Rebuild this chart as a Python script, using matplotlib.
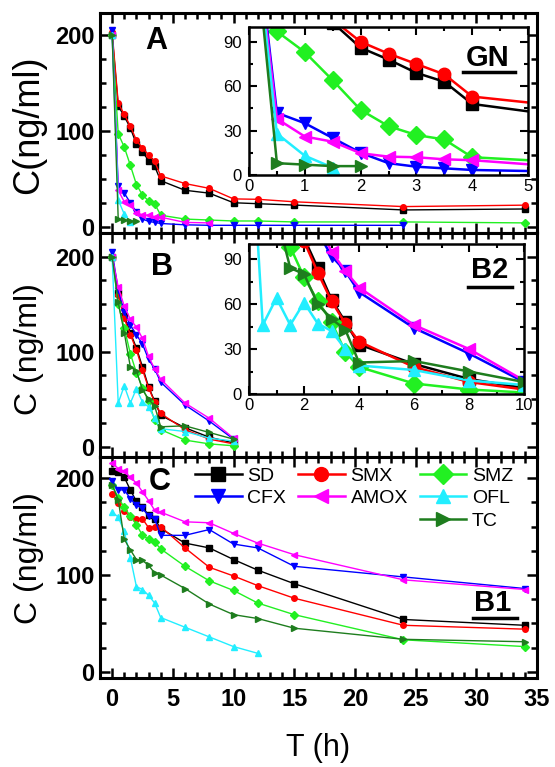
import matplotlib
matplotlib.use('Agg')
import matplotlib.pyplot as plt
from matplotlib.ticker import MultipleLocator
from matplotlib.lines import Line2D

plt.rcParams['font.family'] = ['Liberation Sans', 'DejaVu Sans']

# ---------------- data ----------------
series = ['SD', 'SMX', 'SMZ', 'CFX', 'AMOX', 'OFL', 'TC']
colors = {'SD': '#000000', 'SMX': '#ff0000', 'SMZ': '#22f022', 'CFX': '#0000ff',
          'AMOX': '#ff00ff', 'OFL': '#22eeff', 'TC': '#1e7d1e'}
markers = {'SD': 's', 'SMX': 'o', 'SMZ': 'D', 'CFX': 'v', 'AMOX': '<', 'OFL': '^', 'TC': '>'}

# Panel A (GN)
tA_full = [0, 0.5, 1, 1.5, 2, 2.5, 3, 3.5, 4, 6, 8, 10, 12, 15, 24, 34]
A_SD = [200, 126, 115, 103, 86, 78, 69, 63, 48, 38, 35, 25, 24, 22.6, 17.5, 18.5]
A_SMX = [203, 129, 117, 105, 90, 82, 75, 68, 53, 45, 40, 29, 28.6, 26, 21, 22.5]
A_SMZ = [200, 97, 83, 64, 44, 33, 27, 24, 12, 8, 7, 6, 6, 5, 5, 4]
tA_CFX = [0, 0.5, 1, 1.5, 2, 2.5, 3, 3.5, 4, 6, 8, 10, 12, 15, 24]
A_CFX = [205, 42, 35, 25, 15, 8, 5.6, 4.5, 3.4, 2, 1.5, 1.5, 1.5, 1.5, 1.5]
tA_AMOX = [0, 0.5, 1, 1.5, 2, 2.5, 3, 3.5, 4, 6, 8]
A_AMOX = [200, 38, 26, 22.5, 14.7, 12.4, 12, 10.6, 10, 4.5, 4]
tA_OFL = [0, 0.5, 1, 1.5]
A_OFL = [200, 28, 13, 5]
tA_TC = [0, 0.5, 1, 1.5, 2]
A_TC = [200, 8, 7, 6, 6]

# Panel B (B2)
tB = [0, 0.5, 1, 1.5, 2, 2.5, 3, 3.5, 4, 6, 8, 10]
B_SD = [200, 162, 138, 120, 104, 84, 63, 48, 33, 20, 10, 4]
B_SMX = [200, 160, 135, 118, 102, 81, 62, 47, 35, 18, 8, 3]
B_SMZ = [200, 150, 125, 98, 78, 62, 48, 28, 18, 7, 3, 1]
B_CFX = [205, 165, 142, 128, 118, 108, 92, 82, 68, 44, 27, 8]
B_AMOX = [200, 168, 148, 134, 126, 114, 95, 82, 71, 46, 30, 9]
B_OFL = [200, 46, 64, 46, 61, 47, 42, 30, 19, 16, 9, 6]
B_TC = [200, 152, 120, 84, 80, 60, 50, 43, 21, 22, 15, 8]

# Panel C (B1)
tC = [0, 0.5, 1, 1.5, 2, 2.5, 3, 3.5, 4, 6, 8, 10, 12, 15, 24, 34]
C_SD = [208, 206, 201, 188, 176, 170, 162, 158, 148, 133, 128, 116, 105, 91, 54, 48]
C_SMX = [184, 174, 166, 160, 158, 158, 149, 150, 150, 128, 108, 99, 89, 76, 48, 44]
C_SMZ = [193, 180, 170, 161, 152, 141, 137, 134, 127, 109, 94, 84, 71, 59, 33, 26]
C_CFX = [197, 188, 188, 179, 172, 169, 161, 158, 141, 141, 147, 132, 128, 109, 98, 86]
C_AMOX = [216, 210, 207, 201, 195, 186, 177, 167, 165, 155, 154, 143, 133, 121, 95, 85]
tC_OFL = [0, 0.5, 1, 1.5, 2, 2.5, 3, 3.5, 4, 6, 8, 10, 12]
C_OFL = [165, 160, 145, 118, 88, 85, 79, 71, 56, 46, 36, 26, 19]
C_TC = [193, 178, 137, 126, 116, 115, 110, 102, 100, 86, 70, 59, 55, 45, 33.5, 31]

panelA = {'SD': (tA_full, A_SD), 'SMX': (tA_full, A_SMX), 'SMZ': (tA_full, A_SMZ),
          'CFX': (tA_CFX, A_CFX), 'AMOX': (tA_AMOX, A_AMOX), 'OFL': (tA_OFL, A_OFL),
          'TC': (tA_TC, A_TC)}
panelB = {'SD': (tB, B_SD), 'SMX': (tB, B_SMX), 'SMZ': (tB, B_SMZ), 'CFX': (tB, B_CFX),
          'AMOX': (tB, B_AMOX), 'OFL': (tB, B_OFL), 'TC': (tB, B_TC)}
panelC = {'SD': (tC, C_SD), 'SMX': (tC, C_SMX), 'SMZ': (tC, C_SMZ), 'CFX': (tC, C_CFX),
          'AMOX': (tC, C_AMOX), 'OFL': (tC_OFL, C_OFL), 'TC': (tC, C_TC)}

# ---------------- figure ----------------
W, H = 555, 767
fig = plt.figure(figsize=(W / 100, H / 100), dpi=100)


def fx(px):
    return px / W


def fy(py):
    return 1 - py / H


left, right = 100, 537
axA = fig.add_axes([fx(left), fy(232.5), fx(right - left), (232.5 - 12.7) / H])
axB = fig.add_axes([fx(left), fy(456.7), fx(right - left), (456.7 - 232.5) / H])
axC = fig.add_axes([fx(left), fy(678.3), fx(right - left), (678.3 - 456.7) / H])


def style_main(ax, ylim, show_x):
    ax.set_xlim(-1, 35)
    ax.set_ylim(*ylim)
    ax.xaxis.set_major_locator(MultipleLocator(5))
    ax.xaxis.set_minor_locator(MultipleLocator(1))
    ax.yaxis.set_major_locator(MultipleLocator(100))
    ax.yaxis.set_minor_locator(MultipleLocator(25))
    ax.tick_params(which='both', direction='in', top=True, right=True, width=1.8)
    ax.tick_params(which='major', length=7)
    ax.tick_params(which='minor', length=4)
    ax.tick_params(axis='y', labelsize=17, pad=4)
    ax.tick_params(axis='x', labelsize=17, pad=7, labelbottom=show_x)
    for lab in ax.get_xticklabels() + ax.get_yticklabels():
        lab.set_fontweight('bold')
    for s in ax.spines.values():
        s.set_linewidth(2.2)


def draw(ax, data, ms, lw):
    for name in series:
        t, c = data[name]
        ax.plot(t, c, color=colors[name], marker=markers[name], ms=ms, lw=lw,
                mec=colors[name], label=name)


draw(axA, panelA, 4, 1.0)
draw(axB, panelB, 4, 1.0)
draw(axC, panelC, 4, 1.0)
style_main(axA, (-6, 223), False)
style_main(axB, (-10.5, 225.5), False)
style_main(axC, (-6.8, 222.3), True)


def style_inset(ax, xmax, xmaj, xmin):
    ax.set_xlim(0, xmax)
    ax.set_ylim(0, 100)
    ax.xaxis.set_major_locator(MultipleLocator(xmaj))
    ax.xaxis.set_minor_locator(MultipleLocator(xmin))
    ax.yaxis.set_major_locator(MultipleLocator(30))
    ax.yaxis.set_minor_locator(MultipleLocator(15))
    ax.tick_params(which='both', direction='in', top=True, right=True, width=1.5, labelsize=12)
    ax.tick_params(which='major', length=6)
    ax.tick_params(which='minor', length=3)
    ax.tick_params(axis='y', pad=5)
    ax.tick_params(axis='x', pad=3)
    for s in ax.spines.values():
        s.set_linewidth(1.8)


insA = fig.add_axes([fx(249), fy(175), fx(528 - 249), (175 - 27) / H])
draw(insA, panelA, 9, 1.8)
style_inset(insA, 5, 1, 0.5)
insB = fig.add_axes([fx(249), fy(394), fx(524 - 249), (394 - 244) / H])
draw(insB, panelB, 9, 1.8)
style_inset(insB, 10, 2, 1)

# panel letters
fig.text(fx(156), fy(41), 'A', fontsize=22, fontweight='bold', ha='center', va='center')
fig.text(fx(162), fy(267), 'B', fontsize=22, fontweight='bold', ha='center', va='center')
fig.text(fx(160), fy(482), 'C', fontsize=22, fontweight='bold', ha='center', va='center')

# underlined labels
for txt, cx, cy, uy, x0, x1 in [('GN', 488, 58, 72, 463, 515),
                                ('B2', 490, 270, 287, 468, 512),
                                ('B1', 493, 603, 618, 473, 517)]:
    fig.text(fx(cx), fy(cy), txt, fontsize=21, fontweight='bold', ha='center', va='center')
    fig.add_artist(Line2D([fx(x0), fx(x1)], [fy(uy), fy(uy)], color='black', lw=2.5,
                          transform=fig.transFigure))

# axis labels
fig.text(fx(29), fy(125), 'C(ng/ml)', fontsize=26, rotation=90, ha='center', va='center')
fig.text(fx(29), fy(349), 'C (ng/ml)', fontsize=23, rotation=90, ha='center', va='center')
fig.text(fx(29), fy(558), 'C (ng/ml)', fontsize=23, rotation=90, ha='center', va='center')
fig.text(fx(318), fy(748), 'T (h)', fontsize=22, ha='center', va='center')

# legend in panel C: column layout SD/CFX | SMX/AMOX | SMZ/OFL/TC
hmap = {}
for name in series:
    hmap[name] = Line2D([], [], color=colors[name], marker=markers[name], ms=10, lw=1.8)
blank = Line2D([], [], alpha=0)
handles = [hmap['SD'], hmap['CFX'], blank, hmap['SMX'], hmap['AMOX'], blank,
           hmap['SMZ'], hmap['OFL'], hmap['TC']]
labels = ['SD', 'CFX', '', 'SMX', 'AMOX', '', 'SMZ', 'OFL', 'TC']
axC.legend(handles, labels, ncol=3, loc='upper left', bbox_to_anchor=(fx(195), fy(467)),
           bbox_transform=fig.transFigure, frameon=False, fontsize=14, handlelength=2.4,
           handletextpad=0.3, columnspacing=0.6, labelspacing=0.25, borderpad=0,
           borderaxespad=0)

fig.savefig('out.png', dpi=100)
